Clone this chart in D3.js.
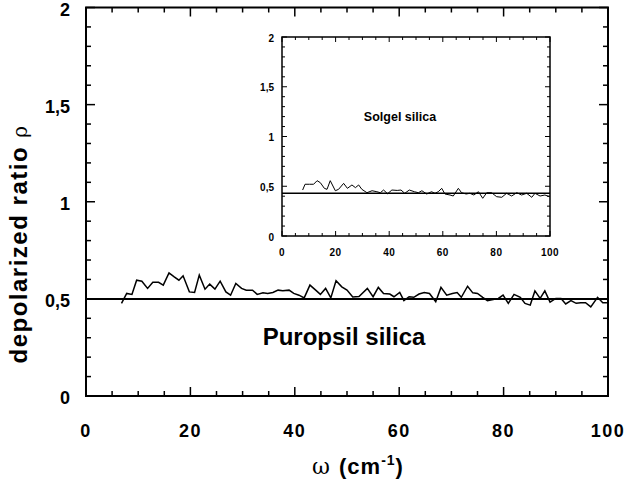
<!DOCTYPE html>
<html>
<head lang="en">
  <meta charset="UTF-8">
  <title>depolarized ratio</title>
  <script src="https://d3js.org/d3.v7.min.js" charset="utf-8"></script>
  <style>
    body { margin: 0; background: #fff; }
    text { font-family: "Liberation Sans", Arial, sans-serif; font-weight: bold; fill: #000; }
    .sym { font-family: "DejaVu Serif", serif; font-weight: normal; }
  </style>
</head>
<body>
  <script type="text/javascript">
    // Puropsil silica (main plot)
    var mainOmega = [6.8,7.8,8.8,9.7,10.7,11.8,12.8,13.9,14.8,15.9,16.9,17.8,18.6,19.8,20.8,21.7,22.8,23.7,24.7,25.7,
      26.8,27.7,28.7,29.8,30.7,31.9,32.8,33.9,34.8,35.8,36.8,37.7,38.9,39.8,40.8,41.8,42.9,44.0,44.9,45.9,46.9,47.9,
      49.0,50.0,51.1,52.3,53.9,55.0,56.0,57.0,58.2,59.0,60.1,60.9,61.9,62.8,63.8,64.8,65.8,67.0,68.0,69.1,
      70.2,71.1,71.9,73.1,74.1,75.0,76.0,76.9,78.0,79.0,79.9,80.9,82.0,83.2,84.1,85.1,86.0,87.0,87.9,88.9,
      90.0,91.0,91.9,92.9,93.9,94.8,95.7,96.7,98.0,99.0,99.8];
    var mainRho = [0.477,0.528,0.523,0.596,0.591,0.554,0.585,0.585,0.571,0.634,0.613,0.596,0.619,0.536,0.533,0.622,0.550,0.576,0.550,0.591,
      0.536,0.519,0.579,0.554,0.545,0.545,0.523,0.531,0.528,0.533,0.545,0.542,0.545,0.528,0.519,0.505,0.571,0.545,0.523,0.554,0.505,0.593,
      0.562,0.545,0.510,0.512,0.554,0.511,0.559,0.528,0.525,0.511,0.533,0.491,0.511,0.508,0.525,0.533,0.528,0.485,0.559,0.519,
      0.528,0.533,0.508,0.565,0.531,0.528,0.508,0.491,0.497,0.502,0.519,0.477,0.523,0.508,0.477,0.468,0.541,0.502,0.541,0.483,
      0.502,0.502,0.474,0.491,0.477,0.480,0.480,0.459,0.508,0.480,0.480];
    var mainLevel = 0.5;

    // Solgel silica (inset)
    var insetOmega = [7.7,8.6,10.3,11.8,13.1,14.3,15.8,16.8,18.0,19.9,21.1,23.0,24.4,26.1,27.4,28.6,29.8,31.7,33.6,35.4,
      36.7,37.9,39.4,41.0,43.0,44.4,45.8,47.5,49.4,50.9,52.2,54.0,55.8,57.1,58.3,59.6,60.8,62.7,63.9,65.8,
      67.0,68.7,70.1,71.6,73.3,74.9,76.4,78.2,80.1,82.0,83.8,85.7,87.6,89.4,91.3,93.2,94.4,96.3,98.1,99.8];
    var insetRho = [0.462,0.52,0.52,0.52,0.556,0.536,0.479,0.469,0.556,0.455,0.469,0.529,0.479,0.513,0.486,0.513,0.469,0.435,0.455,0.445,
      0.435,0.462,0.425,0.462,0.458,0.462,0.429,0.462,0.445,0.435,0.455,0.422,0.445,0.429,0.445,0.479,0.422,0.412,0.402,0.479,
      0.435,0.422,0.429,0.412,0.445,0.379,0.435,0.435,0.395,0.389,0.429,0.402,0.435,0.412,0.429,0.389,0.429,0.402,0.412,0.395];
    var insetLevel = 0.43;

    var xTicks = [0, 20, 40, 60, 80, 100];
    var yTicks = [0, 0.5, 1, 1.5, 2];
    var yTickLabels = ['0', '0,5', '1', '1,5', '2'];

    var svg = d3.select('body')
        .append('svg')
        .attr('width', 626)
        .attr('height', 480);

    // draws a boxed frame with inward ticks on all four sides
    function frame(x, y, o) {
      var g = svg.append('g');
      var xMinor = d3.range(0, 100.01, 5);
      var yMinor = d3.range(0, 2.001, 0.1);
      var x0 = x.range()[0], x1 = x.range()[1];
      var y0 = y.range()[0], y1 = y.range()[1];

      g.append('rect')
          .attr('x', x0).attr('y', y1)
          .attr('width', x1 - x0).attr('height', y0 - y1)
          .attr('fill', '#fff')
          .attr('stroke', '#000')
          .attr('stroke-width', o.frameW);

      xMinor.forEach(function (v, i) {
        var len = i % 4 === 0 ? o.major : o.minor;
        g.append('line').attr('x1', x(v)).attr('x2', x(v)).attr('y1', y0).attr('y2', y0 - len)
            .attr('stroke', '#000').attr('stroke-width', o.tickW);
        g.append('line').attr('x1', x(v)).attr('x2', x(v)).attr('y1', y1).attr('y2', y1 + len)
            .attr('stroke', '#000').attr('stroke-width', o.tickW);
      });
      yMinor.forEach(function (v, i) {
        var len = i % 5 === 0 ? o.major : o.minor;
        g.append('line').attr('y1', y(v)).attr('y2', y(v)).attr('x1', x0).attr('x2', x0 + len)
            .attr('stroke', '#000').attr('stroke-width', o.tickW);
        g.append('line').attr('y1', y(v)).attr('y2', y(v)).attr('x1', x1).attr('x2', x1 - len)
            .attr('stroke', '#000').attr('stroke-width', o.tickW);
      });

      g.selectAll('.xl').data(xTicks).enter().append('text')
          .attr('x', function (d) { return x(d); })
          .attr('y', y0 + o.xLabelDy)
          .attr('text-anchor', 'middle')
          .attr('font-size', o.fs)
          .attr('letter-spacing', o.ls)
          .text(function (d) { return d; });
      g.selectAll('.yl').data(yTicks).enter().append('text')
          .attr('x', x0 - o.yLabelDx)
          .attr('y', function (d) { return y(d) + o.yLabelShift; })
          .attr('dy', '0.36em')
          .attr('text-anchor', 'end')
          .attr('font-size', o.fs)
          .text(function (d, i) { return yTickLabels[i]; });
      return g;
    }

    function series(x, y, om, rho, level, lw, refW) {
      var line = d3.line()
          .x(function (d) { return x(d[0]); })
          .y(function (d) { return y(d[1]); });
      svg.append('line')
          .attr('x1', x(0)).attr('x2', x(100))
          .attr('y1', y(level)).attr('y2', y(level))
          .attr('stroke', '#000').attr('stroke-width', refW);
      svg.append('path')
          .datum(d3.zip(om, rho))
          .attr('d', line)
          .attr('fill', 'none')
          .attr('stroke', '#000')
          .attr('stroke-width', lw);
    }

    // main plot
    var x = d3.scaleLinear().domain([0, 100]).range([86, 608]);
    var y = d3.scaleLinear().domain([0, 2]).range([396, 7.5]);
    frame(x, y, {frameW: 2, tickW: 1.5, major: 9, minor: 5, fs: 18, ls: 1.5,
                 xLabelDy: 41, yLabelDx: 16, yLabelShift: 2});
    series(x, y, mainOmega, mainRho, mainLevel, 1.5, 2);

    svg.append('text')
        .attr('x', 344).attr('y', 345)
        .attr('text-anchor', 'middle')
        .attr('font-size', 24)
        .text('Puropsil silica');

    var xt = svg.append('text')
        .attr('x', 358).attr('y', 474)
        .attr('text-anchor', 'middle')
        .attr('font-size', 22)
        .attr('letter-spacing', 1);
    xt.append('tspan').attr('class', 'sym').text('ω ');
    xt.append('tspan').text('(cm');
    xt.append('tspan').attr('font-size', 14).attr('dy', -9).text('-1');
    xt.append('tspan').attr('dy', 9).text(')');

    var yt = svg.append('text')
        .attr('transform', 'translate(27,244) rotate(-90)')
        .attr('text-anchor', 'middle')
        .attr('font-size', 24)
        .attr('letter-spacing', 1.5);
    yt.append('tspan').text('depolarized ratio ');
    yt.append('tspan').attr('class', 'sym').attr('font-size', 20).text('ρ');

    // inset
    var xi = d3.scaleLinear().domain([0, 100]).range([282, 550]);
    var yi = d3.scaleLinear().domain([0, 2]).range([236, 37]);
    frame(xi, yi, {frameW: 1.5, tickW: 1, major: 5, minor: 3, fs: 10, ls: 0.5,
                   xLabelDy: 20, yLabelDx: 8, yLabelShift: 1});
    series(xi, yi, insetOmega, insetRho, insetLevel, 1, 1.5);

    svg.append('text')
        .attr('x', 400).attr('y', 121)
        .attr('text-anchor', 'middle')
        .attr('font-size', 12.5)
        .text('Solgel silica');
  </script>
</body>
</html>
